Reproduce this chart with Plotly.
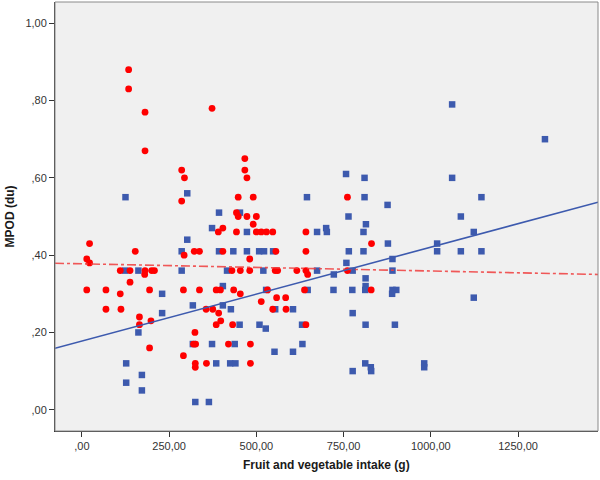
import plotly.graph_objects as go

# ---- data ----
red_x = [134, 134, 373, 181, 181,
         467, 286, 467, 294, 473,
         448, 491, 761, 286,
         443, 448, 473, 500, 491,
         404, 391, 443, 500, 514, 529, 547, 642,
         22, 830,
         153, 322, 337, 404, 556, 642,
         293,
         14, 481,
         22,
         110, 138, 181, 200, 208, 430, 454, 481, 554, 561, 616, 642, 761,
         180, 647,
         138,
         14, 69, 194, 291, 337, 385, 397, 435, 532, 638, 829,
         110, 454,
         558, 584,
         514,
         69, 112, 356, 375, 547, 585,
         392,
         165,
         198, 398,
         165, 385, 432, 642,
         324,
         320, 326, 420, 483,
         194,
         291,
         325, 357, 483,
         325]
red_y = [0.88, 0.83, 0.78, 0.77, 0.67,
         0.65, 0.62, 0.62, 0.60, 0.60,
         0.55, 0.55, 0.55, 0.54,
         0.51, 0.50, 0.50, 0.50, 0.48,
         0.47, 0.46, 0.46, 0.46, 0.46, 0.46, 0.46, 0.46,
         0.43, 0.43,
         0.41, 0.41, 0.41, 0.41, 0.41, 0.41,
         0.40,
         0.39, 0.39,
         0.38,
         0.36, 0.36, 0.36, 0.36, 0.36, 0.36, 0.36, 0.36, 0.36, 0.36, 0.36, 0.36, 0.36,
         0.35, 0.35,
         0.33,
         0.31, 0.31, 0.31, 0.31, 0.31, 0.31, 0.31, 0.31, 0.31, 0.31, 0.31,
         0.30, 0.30,
         0.29, 0.29,
         0.28,
         0.26, 0.26, 0.26, 0.26, 0.26, 0.26,
         0.25,
         0.24,
         0.23, 0.23,
         0.22, 0.22, 0.22, 0.22,
         0.20,
         0.17, 0.17, 0.17, 0.17,
         0.16,
         0.14,
         0.12, 0.12, 0.12,
         0.11]

blue_x = [1061, 1327, 757, 810, 1061, 302,
          125, 645, 810, 1145, 876,
          393, 453, 764, 1086, 814,
          373, 700, 473, 674, 702, 807, 1123,
          302, 877, 1018,
          286, 393, 434, 473, 508, 522, 548, 765, 807, 1018, 1086, 1145,
          890, 758,
          124, 162, 286, 416, 520, 674, 776, 890,
          722, 813, 404, 813,
          528, 647, 721, 775, 812, 890, 901,
          230, 889, 1123,
          318, 404, 427, 554, 605,
          230, 776,
          452, 509, 631, 813, 897,
          527, 162,
          318, 373, 438, 632,
          552, 605,
          127, 385, 425, 440, 812, 981,
          828, 981,
          776, 829,
          172, 127, 172,
          325, 364]
blue_y = [0.79, 0.70, 0.61, 0.60, 0.60, 0.56,
          0.55, 0.55, 0.55, 0.55, 0.53,
          0.51, 0.51, 0.50, 0.50, 0.48,
          0.47, 0.47, 0.46, 0.46, 0.46, 0.46, 0.46,
          0.44, 0.43, 0.43,
          0.41, 0.41, 0.41, 0.41, 0.41, 0.41, 0.41, 0.41, 0.41, 0.41, 0.41, 0.41,
          0.39, 0.38,
          0.36, 0.36, 0.36, 0.36, 0.36, 0.36, 0.36, 0.36,
          0.35, 0.34, 0.32, 0.32,
          0.31, 0.31, 0.31, 0.31, 0.31, 0.31, 0.31,
          0.30, 0.30, 0.29,
          0.27, 0.27, 0.26, 0.26, 0.26,
          0.25, 0.25,
          0.22, 0.22, 0.22, 0.22, 0.22,
          0.21, 0.20,
          0.17, 0.17, 0.17, 0.17,
          0.15, 0.15,
          0.12, 0.12, 0.12, 0.12, 0.12, 0.12,
          0.11, 0.11,
          0.10, 0.10,
          0.09, 0.07, 0.05,
          0.02, 0.02]

# fit lines (intercept, slope)
blue_fit = (0.1777, 0.000243)
red_fit = (0.3776, -0.0000186)

x_range = [-77, 1479]
y_range = [-0.055, 1.055]

x_tickvals = [0, 250, 500, 750, 1000, 1250]
x_ticktext = [",00", "250,00", "500,00", "750,00", "1000,00", "1250,00"]
y_tickvals = [0.0, 0.2, 0.4, 0.6, 0.8, 1.0]
y_ticktext = [",00", ",20", ",40", ",60", ",80", "1,00"]

x_title = "Fruit and vegetable intake (g)"
y_title = "MPOD (du)"

BLUE = "#3D5AAE"
RED = "#FF0000"

fig = go.Figure()
fig.add_trace(go.Scatter(x=blue_x, y=blue_y, mode="markers",
                         marker=dict(symbol="square", size=6.5, color=BLUE, line=dict(width=0)),
                         showlegend=False))
fig.add_trace(go.Scatter(x=red_x, y=red_y, mode="markers",
                         marker=dict(symbol="circle", size=6.8, color=RED, line=dict(width=0)),
                         showlegend=False))

fit_x = x_range
fig.add_trace(go.Scatter(x=fit_x, y=[red_fit[0] + red_fit[1] * v for v in fit_x], mode="lines",
                         line=dict(color="rgba(240,60,60,0.85)", width=1.6, dash="dashdot"),
                         showlegend=False))
fig.add_trace(go.Scatter(x=fit_x, y=[blue_fit[0] + blue_fit[1] * v for v in fit_x], mode="lines",
                         line=dict(color=BLUE, width=1.6),
                         showlegend=False))

tickfont = dict(family="Liberation Sans, Arial, sans-serif", size=11, color="#333333")

fig.update_layout(
    width=600, height=480,
    margin=dict(l=55, r=2, t=2, b=49),
    paper_bgcolor="white",
    plot_bgcolor="#F0F0F0",
    xaxis=dict(range=x_range, tickvals=x_tickvals, ticktext=x_ticktext,
               showgrid=False, zeroline=False, showline=True, linecolor="#333333", linewidth=1,
               ticks="outside", ticklen=5, tickcolor="#333333", tickfont=tickfont),
    yaxis=dict(range=y_range, tickvals=y_tickvals, ticktext=y_ticktext,
               showgrid=False, zeroline=False, showline=True, linecolor="#333333", linewidth=1,
               ticks="outside", ticklen=5, tickcolor="#333333", tickfont=tickfont),
    shapes=[dict(type="rect", xref="paper", yref="paper", x0=0, x1=1, y0=0, y1=1,
                 line=dict(color="#8A8A8A", width=1), layer="above")],
    annotations=[
        dict(text="<b>" + x_title + "</b>", xref="paper", yref="paper", x=0.5, y=-0.079,
             xanchor="center", yanchor="middle", showarrow=False,
             font=dict(family="Liberation Sans, Arial, sans-serif", size=12, color="#1a1a1a")),
        dict(text="<b>" + y_title + "</b>", xref="paper", yref="paper", x=-0.083, y=0.5,
             xanchor="center", yanchor="middle", textangle=-90, showarrow=False,
             font=dict(family="Liberation Sans, Arial, sans-serif", size=12, color="#1a1a1a")),
    ],
)

fig.write_html("out.html", config={"displayModeBar": False},
               post_script="document.body.style.margin='0';document.body.style.padding='0';")
